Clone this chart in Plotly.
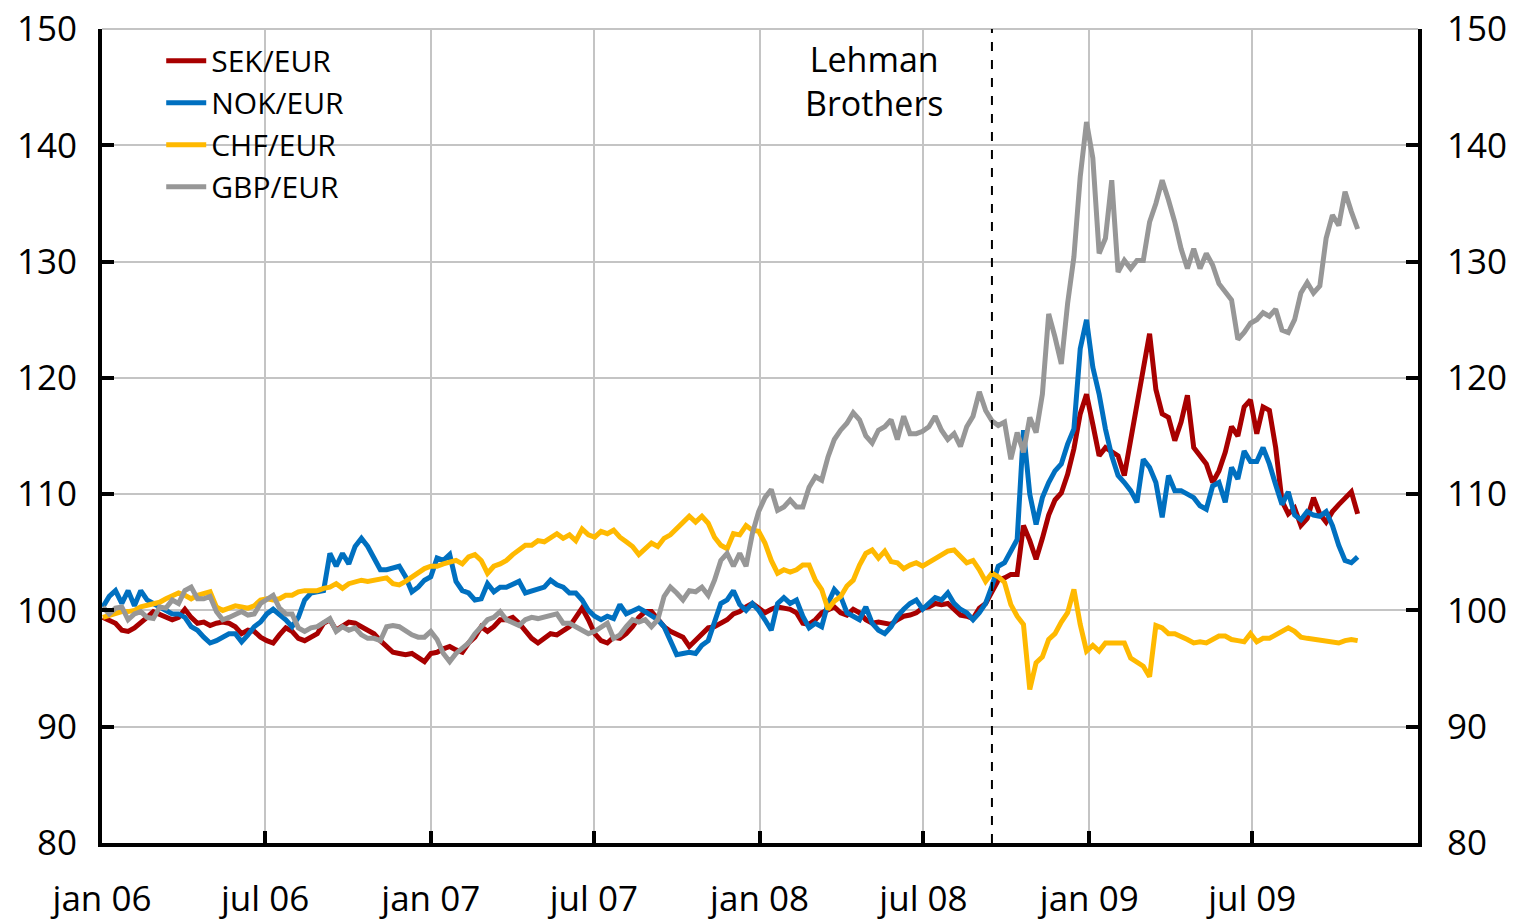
import pandas as pd
import plotly.graph_objects as go

# Weekly observations, index 2006-01-02 = 100
dates = pd.date_range("2006-01-02", periods=200, freq="7D")

sek = [99.4, 99.2, 98.9, 98.3, 98.2, 98.5, 98.9, 99.4, 99.9, 99.7,
       99.4, 99.2, 99.4, 100.1, 99.4, 98.9, 99.0, 98.7, 98.9, 99.0,
       98.9, 98.6, 98.0, 98.3, 98.2, 97.7, 97.4, 97.2, 97.9, 98.5,
       98.2, 97.6, 97.4, 97.7, 98.0, 98.9, 99.2, 98.3, 98.6, 99.0,
       98.9, 98.6, 98.2, 98.0, 97.4, 96.9, 96.4, 96.3, 96.2, 96.3,
       96.0, 95.6,
       96.3, 96.4, 96.7, 96.9, 96.6, 96.4, 97.2, 97.7, 98.6, 98.2,
       98.6, 99.2, 99.2, 99.4, 98.9, 98.3, 97.6, 97.2, 97.6, 98.0,
       97.9, 98.2, 98.6, 99.4, 100.2, 99.2, 98.0, 97.4, 97.2, 97.7,
       97.6, 98.0, 98.6, 99.4, 99.9, 99.9, 99.2, 98.6, 98.2, 98.0,
       97.7, 96.9, 97.4, 98.0, 98.5, 98.6, 98.9, 99.2, 99.7, 99.9,
       100.3, 100.6,
       100.2, 99.8, 100.1, 100.3, 100.2, 100.1, 99.8, 98.9, 98.8, 99.2,
       99.8, 100.1, 100.3, 99.8, 99.6, 100.1, 99.8, 99.2, 98.9, 99.0,
       98.9, 98.8, 99.2, 99.5, 99.6, 99.8, 100.2, 100.3, 100.6, 100.5,
       100.6, 100.1, 99.6, 99.5, 99.3, 100.2, 100.6,
       101.6, 102.6, 102.8, 103.1, 103.1, 107.3, 106.0, 104.4, 106.2, 108.2,
       109.5, 110.1, 111.7, 113.9, 116.9, 118.6, 116.0, 113.3, 114.0, 113.6,
       113.3, 111.6, 114.6, 117.8, 120.5, 123.8, 119.0, 116.9, 116.6, 114.6,
       116.2, 118.5, 114.0, 113.3, 112.6, 111.0, 112.0, 113.6, 115.8, 115.0,
       117.5, 118.1, 115.2, 117.5, 117.2, 114.0, 109.4, 108.3, 108.8, 107.3,
       107.9, 109.7, 108.3, 107.6, 108.5, 109.1, 109.7, 110.2, 108.3]

nok = [100.3, 101.2, 101.7, 100.6, 101.7, 100.4, 101.7, 100.9, 100.6, 100.3,
       99.9, 99.7, 99.7, 99.4, 98.6, 98.3, 97.7, 97.2, 97.4, 97.7,
       98.0, 98.0, 97.3, 97.9, 98.6, 99.0, 99.7, 100.1, 99.7, 99.2,
       98.6, 99.4, 100.9, 101.5, 101.6, 101.7, 104.9, 103.8, 104.9, 104.0,
       105.5, 106.2, 105.5, 104.6, 103.5, 103.5, 103.6, 103.8, 102.9, 101.6,
       102.0, 102.6,
       102.9, 104.5, 104.3, 104.8, 102.5, 101.7, 101.5, 100.9, 101.0, 102.3,
       101.6, 102.0, 102.0, 102.3, 102.5, 101.5, 101.7, 101.9, 102.0, 102.6,
       102.2, 102.0, 101.5, 101.5, 100.9, 100.0, 99.5, 99.2, 99.5, 99.3,
       100.5, 99.7, 99.9, 100.2, 99.9, 99.6, 99.2, 98.6, 97.4, 96.2,
       96.3, 96.4, 96.3, 97.0, 97.4, 98.9, 100.6, 100.9, 101.7, 100.5,
       100.0, 100.6,
       100.0, 99.2, 98.3, 100.6, 101.1, 100.6, 100.9, 99.5, 98.5, 98.9,
       98.6, 100.6, 101.8, 101.2, 99.8, 99.5, 99.2, 100.3, 98.9, 98.3,
       98.0, 98.6, 99.5, 100.1, 100.6, 100.9, 100.1, 100.6, 101.1, 100.9,
       101.5, 100.6, 100.1, 99.8, 99.2, 99.8, 100.6,
       102.1, 103.8, 104.1, 105.1, 106.1, 115.5, 110.0, 107.4, 109.7, 111.0,
       112.0, 112.6, 114.3, 115.6, 122.5, 125.0, 120.9, 118.6, 115.6, 113.3,
       111.6, 111.0, 110.3, 109.3, 113.0, 112.3, 111.0, 108.0, 111.6, 110.3,
       110.3, 110.0, 109.7, 109.0, 108.7, 110.7, 111.0, 109.3, 112.3, 111.3,
       113.7, 112.8, 112.8, 114.0, 112.6, 110.8, 109.1, 110.2, 108.2, 107.8,
       108.5, 108.2, 108.1, 108.5, 107.3, 105.6, 104.3, 104.1, 104.6]

chf = [99.4, 99.6, 99.7, 99.9, 99.9, 100.0, 100.3, 100.4, 100.6, 100.7,
       101.0, 101.3, 101.5, 101.3, 101.0, 101.3, 101.5, 101.6, 100.3, 100.0,
       100.2, 100.4, 100.3, 100.2, 100.4, 100.9, 101.0, 100.9, 101.0, 101.3,
       101.3, 101.6, 101.7, 101.7, 101.7, 101.9, 102.0, 102.3, 101.9, 102.3,
       102.5, 102.6, 102.5, 102.6, 102.8, 102.8, 102.3, 102.2, 102.5, 102.9,
       103.2, 103.6,
       103.8, 103.8, 104.0, 104.2, 104.3, 104.0, 104.6, 104.8, 104.3, 103.2,
       103.8, 104.0, 104.3, 104.8, 105.2, 105.6, 105.6, 106.0, 105.9, 106.3,
       106.6, 106.2, 106.5, 106.0, 107.0, 106.5, 106.3, 106.8, 106.6, 106.9,
       106.3, 105.9, 105.5, 104.8, 105.3, 105.8, 105.5, 106.2, 106.5, 107.0,
       107.5, 108.1, 107.6, 108.1, 107.5, 106.3, 105.6, 105.3, 106.6, 106.5,
       107.3, 106.9,
       106.8, 105.8, 104.3, 103.2, 103.5, 103.3, 103.5, 103.9, 103.9, 102.6,
       101.8, 100.1, 100.8, 101.2, 102.1, 102.6, 103.9, 104.9, 105.2, 104.5,
       105.1, 104.2, 104.1, 103.6, 103.9, 104.1, 103.8, 104.1, 104.5, 104.8,
       105.1, 105.2, 104.6, 104.1, 104.3, 103.5, 102.5,
       103.2, 102.9, 102.4, 100.5, 99.5, 98.8, 93.2, 95.5, 96.0, 97.5,
       98.0, 99.0, 99.8, 101.8, 98.8, 96.5, 97.0, 96.5, 97.2, 97.2,
       97.2, 97.2, 95.9, 95.5, 95.2, 94.3, 98.7, 98.5, 98.0, 98.0,
       97.8, 97.5, 97.2, 97.3, 97.2, 97.5, 97.8, 97.8, 97.5, 97.4,
       97.3, 98.0, 97.3, 97.6, 97.6, 97.9, 98.2, 98.5, 98.2, 97.7,
       97.6, 97.5, 97.4, 97.4, 97.3, 97.2, 97.4, 97.5, 97.4]

gbp = [100.3, 99.7, 100.2, 100.3, 99.2, 99.7, 99.9, 99.4, 99.3, 100.3,
       100.2, 100.9, 100.6, 101.7, 102.0, 101.0, 101.0, 101.2, 99.9, 99.2,
       99.4, 99.7, 99.9, 99.6, 99.7, 100.6, 100.9, 101.3, 100.2, 99.7,
       99.7, 98.5, 98.2, 98.5, 98.6, 99.0, 99.3, 98.2, 98.6, 98.3,
       98.5, 97.9, 97.6, 97.6, 97.4, 98.6, 98.7, 98.6, 98.2, 97.9,
       97.7, 97.7,
       98.2, 97.5, 96.3, 95.6, 96.3, 96.7, 97.2, 98.0, 98.6, 99.2,
       99.4, 99.9, 99.2, 99.0, 98.7, 99.2, 99.4, 99.3, 99.4, 99.6,
       99.7, 98.9, 98.9, 98.6, 98.3, 98.0, 98.2, 98.6, 98.9, 97.6,
       97.9, 98.6, 99.2, 99.0, 99.2, 98.6, 99.2, 101.2, 102.0, 101.5,
       100.9, 101.7, 101.6, 102.0, 101.3, 102.6, 104.3, 104.9, 103.8, 104.9,
       103.8, 106.6,
       108.5, 109.7, 110.4, 108.6, 108.9, 109.5, 108.9, 108.9, 110.6, 111.5,
       111.2, 113.2, 114.7, 115.5, 116.1, 117.0, 116.4, 115.0, 114.4, 115.5,
       115.8, 116.4, 114.7, 116.7, 115.2, 115.2, 115.4, 115.8, 116.7, 115.5,
       114.7, 115.2, 114.1, 115.8, 116.7, 118.8, 117.2,
       116.3, 115.9, 116.2, 113.0, 115.3, 113.6, 116.6, 115.3, 118.6, 125.5,
       123.5, 121.2, 126.4, 130.4, 137.3, 142.0, 138.9, 130.7, 132.0, 137.0,
       129.1, 130.1, 129.4, 130.1, 130.1, 133.4, 135.0, 137.0, 135.3, 133.4,
       131.1, 129.4, 131.1, 129.4, 130.7, 129.7, 128.1, 127.4, 126.7, 123.3,
       123.9, 124.7, 125.0, 125.6, 125.3, 125.9, 124.1, 123.9, 125.0, 127.3,
       128.2, 127.3, 127.9, 132.0, 134.0, 133.1, 136.0, 134.3, 132.8]

series_names = ["SEK/EUR", "NOK/EUR", "CHF/EUR", "GBP/EUR"]
series_values = [sek, nok, chf, gbp]
series_colors = ["#A80000", "#0070C0", "#FFB900", "#979797"]

tick_dates = ["2006-01-01", "2006-07-01", "2007-01-01", "2007-07-01",
              "2008-01-01", "2008-07-01", "2009-01-01", "2009-07-01"]
tick_labels = ["jan 06", "jul 06", "jan 07", "jul 07",
               "jan 08", "jul 08", "jan 09", "jul 09"]
LEHMAN_DATE = "2008-09-15"

FONT = "Open Sans"
fig = go.Figure()
for name, vals, col in zip(series_names, series_values, series_colors):
    fig.add_trace(go.Scatter(
        x=dates, y=vals, name=name, mode="lines",
        line=dict(color=col, width=5),
        yaxis="y2" if name == "GBP/EUR" else "y",
    ))

axis_common = dict(
    showline=True, linecolor="black", linewidth=4,
    ticks="inside", ticklen=12, tickwidth=4, tickcolor="black",
    tickfont=dict(family=FONT, size=35, color="black"),
    zeroline=False, automargin=False,
)

fig.update_layout(
    template="none",
    width=1516, height=920,
    margin=dict(l=102, r=98, t=29, b=77, pad=0),
    paper_bgcolor="white", plot_bgcolor="white",
    xaxis=dict(type="date", range=["2006-01-01", "2010-01-01"],
               tickvals=tick_dates, ticktext=tick_labels,
               showgrid=True, gridcolor="#C4C4C4", gridwidth=2,
               ticklabelstandoff=22, **axis_common),
    yaxis=dict(range=[80, 150], tick0=80, dtick=10,
               showgrid=True, gridcolor="#C4C4C4", gridwidth=2,
               ticklabelstandoff=14, **axis_common),
    yaxis2=dict(range=[80, 150], tick0=80, dtick=10, overlaying="y",
                side="right", anchor="x", showgrid=False,
                ticklabelstandoff=18, **axis_common),
    legend=dict(x=0.045, y=0.993, xanchor="left", yanchor="top",
                bgcolor="rgba(0,0,0,0)", borderwidth=0,
                font=dict(family=FONT, size=30, color="black"),
                tracegroupgap=0, itemwidth=40),
    showlegend=True,
    shapes=[
        dict(type="line", xref="paper", yref="paper", x0=0, x1=1,
             y0=1, y1=1, line=dict(color="#C4C4C4", width=2),
             layer="between"),
        dict(type="rect", xref="paper", yref="paper", x0=0.0, x1=0.219,
             y0=0.80, y1=0.99, fillcolor="white", line=dict(width=0),
             layer="between"),
        dict(type="line", xref="x", yref="paper", x0=LEHMAN_DATE, x1=LEHMAN_DATE,
             y0=0, y1=1, line=dict(color="black", width=2, dash="dash"),
             layer="above"),
    ],
    annotations=[
        dict(text="Lehman<br>Brothers", xref="paper", yref="paper",
             x=0.587, y=0.936, xanchor="center", yanchor="middle",
             showarrow=False, align="center",
             font=dict(family=FONT, size=34, color="black")),
    ],
)

fig.write_html("out.html", config={"displayModeBar": False},
               post_script="document.body.style.margin='0';document.body.style.overflow='hidden';")
